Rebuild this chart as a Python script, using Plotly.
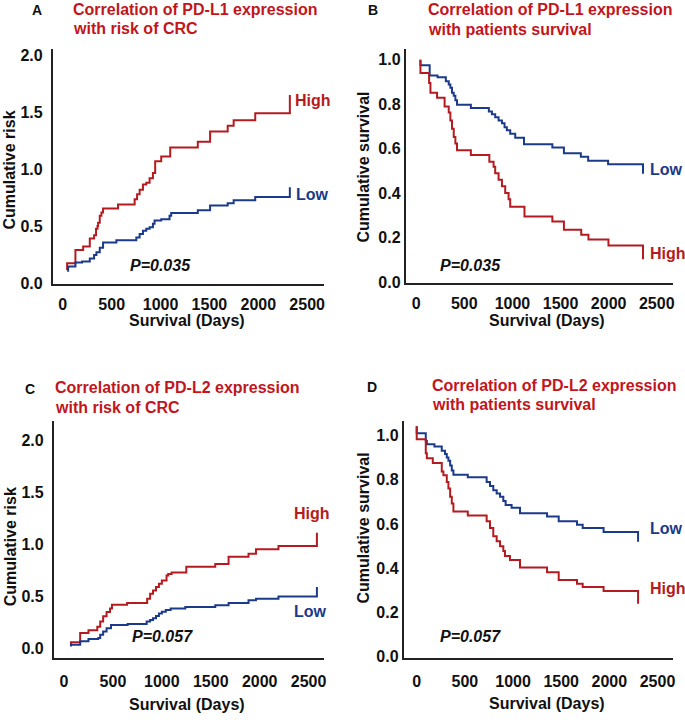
import plotly.graph_objects as go

# ---------------- data ----------------
A_high_days = [44, 44, 129, 208, 276, 320, 340, 355, 361, 378, 395, 412, 565, 735, 760, 786, 820, 854, 888, 922,
               945, 1007, 1099, 1381, 1507, 1687, 1748, 1969, 2323, 2323]
A_high_risk = [0.115, 0.173, 0.29, 0.32, 0.39, 0.42, 0.476, 0.50, 0.53, 0.59, 0.62, 0.655, 0.69, 0.736, 0.78, 0.82,
               0.866, 0.88, 0.92, 0.967, 1.07, 1.11, 1.19, 1.24, 1.33, 1.38, 1.43, 1.49, 1.49, 1.65]
A_low_days = [44, 54, 129, 197, 276, 320, 344, 378, 412, 548, 752, 786, 820, 854, 888, 922, 939, 1007, 1092, 1109,
              1381, 1507, 1687, 1748, 1969, 2323, 2323]
A_low_risk = [0.107, 0.145, 0.18, 0.19, 0.216, 0.245, 0.27, 0.31, 0.355, 0.375, 0.40, 0.43, 0.46, 0.476, 0.49, 0.52,
              0.55, 0.56, 0.59, 0.615, 0.64, 0.68, 0.70, 0.727, 0.756, 0.756, 0.84]

B_high_days = [44, 44, 134, 148, 217, 295, 338, 355, 372, 390, 407, 424, 568, 760, 804, 821, 856, 891, 925, 960,
               977, 1125, 1415, 1535, 1715, 1790, 1998, 2357, 2357]
B_high_surv = [1.0, 0.941, 0.896, 0.852, 0.83, 0.79, 0.763, 0.727, 0.69, 0.653, 0.624, 0.594, 0.572, 0.542, 0.52,
               0.49, 0.461, 0.432, 0.402, 0.373, 0.34, 0.296, 0.273, 0.236, 0.214, 0.193, 0.166, 0.166, 0.104]
B_low_days = [44, 44, 140, 222, 308, 338, 355, 372, 390, 407, 424, 568, 755, 787, 821, 856, 891, 918, 942, 977,
              1029, 1120, 1415, 1535, 1711, 1787, 1994, 2357, 2357]
B_low_surv = [1.0, 0.975, 0.93, 0.922, 0.904, 0.889, 0.874, 0.852, 0.838, 0.818, 0.798, 0.783, 0.768, 0.755, 0.742,
              0.727, 0.715, 0.697, 0.683, 0.668, 0.65, 0.621, 0.606, 0.58, 0.565, 0.547, 0.531, 0.531, 0.488]

C_high_days = [71, 71, 165, 250, 340, 370, 400, 435, 470, 490, 645, 850, 880, 910, 940, 970, 1000, 1048, 1065, 1100,
               1250, 1546, 1682, 1886, 1962, 2192, 2585, 2585]
C_high_risk = [0.04, 0.06, 0.15, 0.175, 0.21, 0.26, 0.31, 0.35, 0.385, 0.42, 0.438, 0.479, 0.526, 0.558, 0.59, 0.621,
               0.652, 0.70, 0.716, 0.73, 0.785, 0.81, 0.88, 0.91, 0.952, 0.983, 0.983, 1.11]
C_low_days = [71, 71, 165, 250, 350, 370, 400, 435, 480, 650, 845, 880, 910, 940, 970, 1000, 1040, 1090, 1240, 1546,
              1682, 1886, 1962, 2192, 2585, 2585]
C_low_risk = [0.02, 0.038, 0.07, 0.092, 0.101, 0.132, 0.164, 0.196, 0.227, 0.235, 0.26, 0.274, 0.29, 0.312, 0.337,
              0.353, 0.369, 0.385, 0.40, 0.416, 0.438, 0.463, 0.479, 0.50, 0.50, 0.59]

D_high_days = [0, 0, 94, 105, 167, 260, 277, 312, 329, 347, 364, 381, 530, 726, 761, 795, 830, 865, 899, 916,
               968, 1072, 1353, 1474, 1664, 1723, 1940, 2298, 2298]
D_high_surv = [1.042, 0.983, 0.92, 0.897, 0.876, 0.837, 0.82, 0.79, 0.76, 0.723, 0.693, 0.656, 0.638, 0.612, 0.582,
               0.545, 0.522, 0.5, 0.478, 0.456, 0.437, 0.404, 0.382, 0.347, 0.33, 0.315, 0.297, 0.297, 0.24]
D_low_days = [0, 0, 94, 105, 184, 260, 294, 312, 329, 347, 364, 381, 530, 726, 761, 795, 830, 865, 899, 923,
              985, 1072, 1353, 1474, 1664, 1723, 1940, 2298, 2298]
D_low_surv = [1.042, 1.01, 0.975, 0.96, 0.95, 0.931, 0.916, 0.901, 0.886, 0.864, 0.842, 0.823, 0.811, 0.79, 0.772,
              0.753, 0.738, 0.723, 0.704, 0.686, 0.674, 0.649, 0.634, 0.612, 0.597, 0.582, 0.564, 0.564, 0.52]

panel_letters = ["A", "B", "C", "D"]
panel_titles = [
    ["Correlation of PD-L1 expression", "with risk of CRC"],
    ["Correlation of PD-L1 expression", "with patients survival"],
    ["Correlation of PD-L2 expression", "with risk of CRC"],
    ["Correlation of PD-L2 expression", "with patients survival"],
]
y_titles = ["Cumulative risk", "Cumulative survival", "Cumulative risk", "Cumulative survival"]
x_title = "Survival (Days)"
p_values = ["P=0.035", "P=0.035", "P=0.057", "P=0.057"]
group_labels = ["High", "Low"]

# ---------------- styling / layout ----------------
W, H = 685, 722
RED = "#B31B20"
TITLE_RED = "#C2151C"
BLUE = "#1B3A8A"
FONT = "Liberation Sans, Arial, sans-serif"


def px(x):
    return x / W


def py(y):
    return 1 - y / H


fig = go.Figure()

series = [
    ("x", "y", A_high_days, A_high_risk, RED),
    ("x", "y", A_low_days, A_low_risk, BLUE),
    ("x2", "y2", B_low_days, B_low_surv, BLUE),
    ("x2", "y2", B_high_days, B_high_surv, RED),
    ("x3", "y3", C_high_days, C_high_risk, RED),
    ("x3", "y3", C_low_days, C_low_risk, BLUE),
    ("x4", "y4", D_low_days, D_low_surv, BLUE),
    ("x4", "y4", D_high_days, D_high_surv, RED),
]
for xa, ya, xs, ys, col in series:
    fig.add_trace(go.Scatter(x=xs, y=ys, xaxis=xa, yaxis=ya, mode="lines",
                             line=dict(color=col, width=2, shape="hv"),
                             showlegend=False, hoverinfo="skip"))

# pixel geometry of each panel: (left, right, top, bottom), x range, y range, y dtick, tick gaps
panels = [
    dict(l=53, r=325, t=48, b=286, xr=[-102, 2673], yr=[-0.009, 2.052], dt=0.5, xl=5, yl=5),
    dict(l=407, r=675, t=48, b=285, xr=[-108, 2669], yr=[-0.003, 1.047], dt=0.2, xl=5, yl=0),
    dict(l=54, r=325, t=425, b=665, xr=[-104, 2658], yr=[-0.088, 2.181], dt=0.5, xl=8, yl=5),
    dict(l=405, r=675, t=425, b=665, xr=[-134, 2661], yr=[-0.0045, 1.065], dt=0.2, xl=8, yl=0),
]
axis_common = dict(showgrid=False, zeroline=False, showline=True, linecolor="#222222", linewidth=2,
                   ticks="outside", tickcolor="rgba(0,0,0,0)",
                   tickfont=dict(family=FONT, size=16, color="#111111", weight="bold"))
layout_axes = {}
for i, p in enumerate(panels):
    sfx = "" if i == 0 else str(i + 1)
    layout_axes["xaxis" + sfx] = dict(axis_common, domain=[px(p["l"]), px(p["r"])], range=p["xr"],
                                      anchor="y" + sfx, tick0=0, dtick=500, ticklen=p["xl"])
    layout_axes["yaxis" + sfx] = dict(axis_common, domain=[py(p["b"]), py(p["t"])], range=p["yr"],
                                      anchor="x" + sfx, tick0=0, dtick=p["dt"], tickformat=".1f",
                                      ticklen=p["yl"])

ann = []


def add_text(x, y, text, size=16, color="#111111", xanchor="left", angle=0, italic=False):
    t = "<b>" + text + "</b>"
    if italic:
        t = "<i>" + t + "</i>"
    ann.append(dict(x=px(x), y=py(y), xref="paper", yref="paper", text=t, showarrow=False,
                    xanchor=xanchor, yanchor="middle", textangle=angle,
                    font=dict(family=FONT, size=size, color=color)))


# panel letters and titles
letter_pos = [(37, 8), (374, 8), (30, 392), (373, 390)]
title_pos = [(71, 8, 27), (427, 8, 28), (53, 391, 411), (431, 389, 408)]
for i in range(4):
    add_text(letter_pos[i][0], letter_pos[i][1], panel_letters[i], size=14, xanchor="center")
    tx, ty1, ty2 = title_pos[i]
    add_text(tx, ty1, panel_titles[i][0], color=TITLE_RED)
    add_text(tx, ty2, panel_titles[i][1], color=TITLE_RED)

# axis titles
ytitle_pos = [(10, 170), (365, 167), (10, 552), (365, 533)]
xtitle_pos = [(188, 323), (549, 323), (188, 712), (549, 711)]
for i in range(4):
    add_text(ytitle_pos[i][0], ytitle_pos[i][1], y_titles[i], xanchor="center", angle=-90)
    add_text(xtitle_pos[i][0], xtitle_pos[i][1], x_title, xanchor="center")

# p-values
p_pos = [(128, 267), (439, 267), (130, 643), (439, 643)]
for i in range(4):
    add_text(p_pos[i][0], p_pos[i][1], p_values[i], italic=True)

# group labels
lab = [
    (294, 100, group_labels[0], RED), (295, 195, group_labels[1], BLUE),
    (650, 170, group_labels[1], BLUE), (650, 255, group_labels[0], RED),
    (293, 519, group_labels[0], RED), (293, 618, group_labels[1], BLUE),
    (650, 534, group_labels[1], BLUE), (650, 595, group_labels[0], RED),
]
for x, y, t, c in lab:
    add_text(x, y, t, color=c)

fig.update_layout(width=W, height=H, margin=dict(l=0, r=0, t=0, b=0),
                  paper_bgcolor="white", plot_bgcolor="white",
                  font=dict(family=FONT), annotations=ann, **layout_axes)

fig.write_html("out.html", config={"displayModeBar": False},
               post_script="document.body.style.margin='0px';document.body.style.overflow='hidden';")
